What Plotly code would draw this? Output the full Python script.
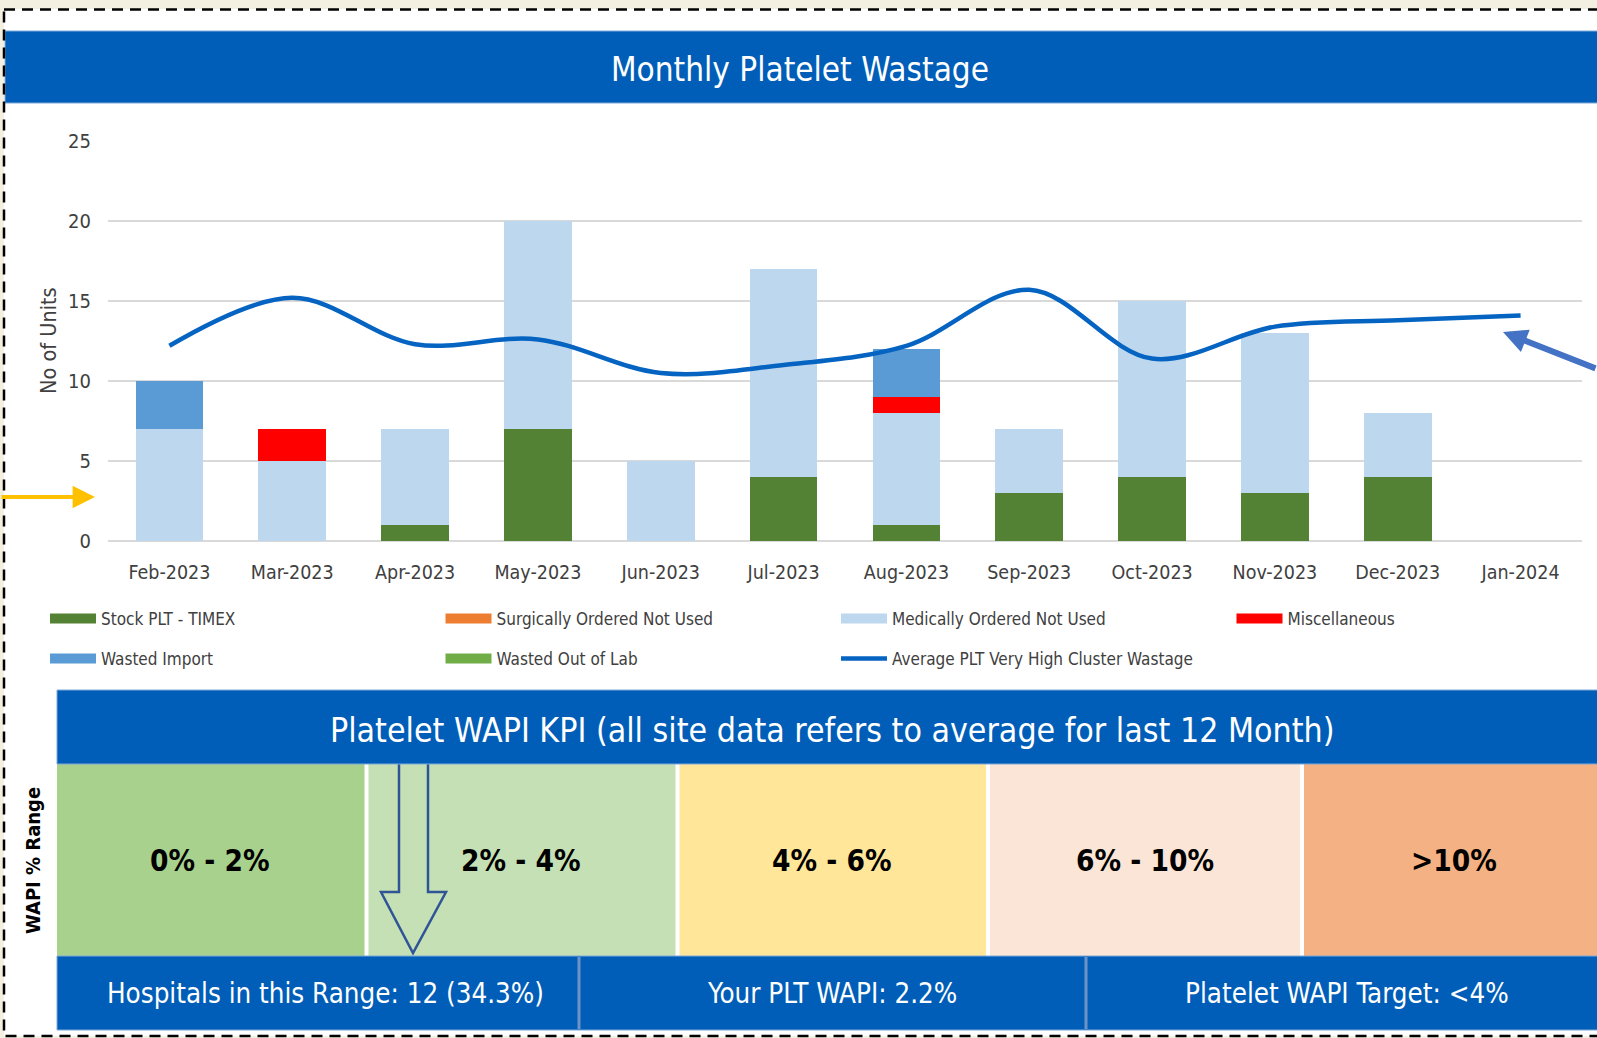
import plotly.graph_objects as go

# ---- data -------------------------------------------------------------
months = ["Feb-2023", "Mar-2023", "Apr-2023", "May-2023", "Jun-2023", "Jul-2023",
          "Aug-2023", "Sep-2023", "Oct-2023", "Nov-2023", "Dec-2023", "Jan-2024"]
stock_plt_timex = [0, 0, 1, 7, 0, 4, 1, 3, 4, 3, 4, 0]
surgically_not_used = [0, 0, 0, 0, 0, 0, 0, 0, 0, 0, 0, 0]
medically_not_used = [7, 5, 6, 13, 5, 13, 7, 4, 11, 10, 4, 0]
miscellaneous = [0, 2, 0, 0, 0, 0, 1, 0, 0, 0, 0, 0]
wasted_import = [3, 0, 0, 0, 0, 0, 3, 0, 0, 0, 0, 0]
wasted_out_of_lab = [0, 0, 0, 0, 0, 0, 0, 0, 0, 0, 0, 0]
cluster_average = [12.2, 15.2, 12.3, 12.6, 10.5, 11.0, 12.2, 15.7, 11.4, 13.4, 13.8, 14.1]

y_ticks = [0, 5, 10, 15, 20, 25]

wapi_ranges = ["0% - 2%", "2% - 4%", "4% - 6%", "6% - 10%", ">10%"]
wapi_colors = ["#A9D18E", "#C5E0B4", "#FFE699", "#FBE5D6", "#F4B183"]
footer_texts = ["Hospitals in this Range: 12 (34.3%)", "Your PLT WAPI: 2.2%",
                "Platelet WAPI Target: <4%"]

# ---- styling ----------------------------------------------------------
NARROW = "Liberation Sans Narrow, Arial Narrow, DejaVu Sans Condensed, sans-serif"
NHS_BLUE = "#005EB8"
TEXT_GREY = "#404040"

FIG_W, FIG_H = 1597, 1038
PL, PR, PT, PB = 108, 1582, 141, 541   # plot-area edges in pixels


def fx(px):
    return (px - PL) / (PR - PL)


def fy(py):
    return (PB - py) / (PB - PT)


fig = go.Figure()

series = [
    ("Stock PLT - TIMEX", stock_plt_timex, "#548235", "legend"),
    ("Surgically Ordered Not Used", surgically_not_used, "#ED7D31", "legend"),
    ("Medically Ordered Not Used", medically_not_used, "#BDD7EE", "legend"),
    ("Miscellaneous", miscellaneous, "#FF0000", "legend"),
    ("Wasted Import", wasted_import, "#5B9BD5", "legend2"),
    ("Wasted Out of Lab", wasted_out_of_lab, "#70AD47", "legend2"),
]

for name, vals, color, _ in series:
    fig.add_trace(go.Bar(x=months, y=vals, name=name, marker=dict(color=color, line=dict(width=0)),
                         showlegend=False))

# legend swatches as wide bands
for name, vals, color, lg in series:
    fig.add_trace(go.Scatter(x=[None], y=[None], mode="lines", name=name, legend=lg,
                             line=dict(color=color, width=10), hoverinfo="skip"))

fig.add_trace(go.Scatter(x=months, y=cluster_average, mode="lines",
                         name="Average PLT Very High Cluster Wastage", legend="legend2",
                         line=dict(color="#0563C1", width=4.5, shape="spline", smoothing=1)))

shapes = []
# white card inside the dashed frame
shapes.append(dict(type="rect", xref="paper", yref="paper", x0=fx(4), x1=fx(1610), y0=fy(9), y1=fy(1036),
                   fillcolor="white", line=dict(width=0), layer="below"))
# title band
shapes.append(dict(type="rect", xref="paper", yref="paper", x0=fx(5), x1=fx(1610), y0=fy(31), y1=fy(103),
                   fillcolor=NHS_BLUE, line=dict(color="#7FA8DA", width=1), layer="above"))

# WAPI range cells
cell_edges = [(57, 364.5), (368.5, 675.5), (679.5, 986), (990, 1300), (1304, 1610)]
for (x0, x1), col in zip(cell_edges, wapi_colors):
    shapes.append(dict(type="rect", xref="paper", yref="paper", x0=fx(x0), x1=fx(x1),
                       y0=fy(764), y1=fy(956), fillcolor=col, line=dict(width=0), layer="above"))

# hollow arrow pointing at the current range
arrow_pts = [(399, 764), (399, 892), (381, 892), (413, 953), (446, 892), (428, 892), (428, 764)]
path = "M " + " L ".join(f"{fx(x):.5f},{fy(y):.5f}" for x, y in arrow_pts)
shapes.append(dict(type="path", xref="paper", yref="paper", path=path, fillcolor="#C5E0B4",
                   line=dict(color="#2F5597", width=2.5), layer="above"))

# KPI header band
shapes.append(dict(type="rect", xref="paper", yref="paper", x0=fx(57), x1=fx(1610), y0=fy(690), y1=fy(764),
                   fillcolor=NHS_BLUE, line=dict(color="#7FA8DA", width=1), layer="above"))
# footer band with separators
shapes.append(dict(type="rect", xref="paper", yref="paper", x0=fx(57), x1=fx(1610), y0=fy(956), y1=fy(1030),
                   fillcolor=NHS_BLUE, line=dict(color="#7FA8DA", width=1), layer="above"))
for sx in (579, 1086):
    shapes.append(dict(type="line", xref="paper", yref="paper", x0=fx(sx), x1=fx(sx), y0=fy(957), y1=fy(1029),
                       line=dict(color="#6F93C6", width=3), layer="above"))

# dashed frame
shapes.append(dict(type="rect", xref="paper", yref="paper", x0=fx(4), x1=fx(1612), y0=fy(9.5), y1=fy(1036),
                   line=dict(color="black", width=2.5, dash="11px,7px"), fillcolor="rgba(0,0,0,0)",
                   layer="above"))

annotations = [
    dict(text="Monthly Platelet Wastage", x=fx(800), y=fy(69), xref="paper", yref="paper",
         showarrow=False, font=dict(family=NARROW, size=33, color="white"), xanchor="center", yanchor="middle"),
    dict(text="No of Units", x=fx(48), y=fy(341), xref="paper", yref="paper", textangle=-90,
         showarrow=False, font=dict(family=NARROW, size=21.5, color=TEXT_GREY), xanchor="center", yanchor="middle"),
    dict(text="Platelet WAPI KPI (all site data refers to average for last 12 Month)", x=fx(832), y=fy(730),
         xref="paper", yref="paper", showarrow=False, font=dict(family=NARROW, size=33.6, color="white"),
         xanchor="center", yanchor="middle"),
    dict(text="<b>WAPI % Range</b>", x=fx(33), y=fy(861), xref="paper", yref="paper", textangle=-90,
         showarrow=False, font=dict(family=NARROW, size=20, color="black"), xanchor="center", yanchor="middle"),
]

label_x = [210, 521, 832, 1145, 1454]
for lx, txt in zip(label_x, wapi_ranges):
    annotations.append(dict(text=f"<b>{txt}</b>", x=fx(lx), y=fy(861), xref="paper", yref="paper",
                            showarrow=False, font=dict(family=NARROW, size=29.5, color="black"),
                            xanchor="center", yanchor="middle"))

footer_x = [325, 832, 1347]
for fxp, txt in zip(footer_x, footer_texts):
    annotations.append(dict(text=txt, x=fx(fxp), y=fy(993), xref="paper", yref="paper",
                            showarrow=False, font=dict(family=NARROW, size=27.5, color="white"),
                            xanchor="center", yanchor="middle"))

# call-out arrows
annotations.append(dict(text="", x=fx(95), y=fy(497), xref="paper", yref="paper", ax=-110, ay=0,
                        showarrow=True, arrowhead=2, arrowsize=1.12, arrowwidth=4, arrowcolor="#FFC000"))
annotations.append(dict(text="", x=fx(1503), y=fy(332), xref="paper", yref="paper", ax=140, ay=37,
                        showarrow=True, arrowhead=2, arrowsize=0.8, arrowwidth=6, arrowcolor="#4472C4"))

legend_common = dict(orientation="h", xanchor="left", yanchor="middle", x=fx(45), traceorder="normal",
                     entrywidthmode="fraction", entrywidth=0.25, itemwidth=46,
                     font=dict(family=NARROW, size=17, color=TEXT_GREY), bgcolor="rgba(0,0,0,0)",
                     itemclick=False, itemdoubleclick=False)

fig.update_layout(
    width=FIG_W, height=FIG_H,
    margin=dict(l=PL, r=FIG_W - PR, t=PT, b=FIG_H - PB, autoexpand=False),
    paper_bgcolor="#F3F0E1",
    plot_bgcolor="rgba(0,0,0,0)",
    barmode="stack",
    bargap=0.45,
    showlegend=True,
    legend=dict(y=fy(619), **legend_common),
    legend2=dict(y=fy(659), **legend_common),
    shapes=shapes,
    annotations=annotations,
    xaxis=dict(type="category", range=[-0.5, 11.5], showgrid=False, zeroline=False, showline=False,
               ticks="", tickfont=dict(family=NARROW, size=19.5, color=TEXT_GREY), ticklabelstandoff=17,
               fixedrange=True),
    yaxis=dict(range=[0, 25], tickvals=y_ticks, showgrid=True, gridcolor="#D9D9D9", gridwidth=1.6,
               zeroline=True, zerolinecolor="#D9D9D9", zerolinewidth=1.6, showline=False, ticks="",
               tickfont=dict(family=NARROW, size=20, color=TEXT_GREY), ticklabelstandoff=16,
               fixedrange=True),
)

fig.write_html("out.html")
